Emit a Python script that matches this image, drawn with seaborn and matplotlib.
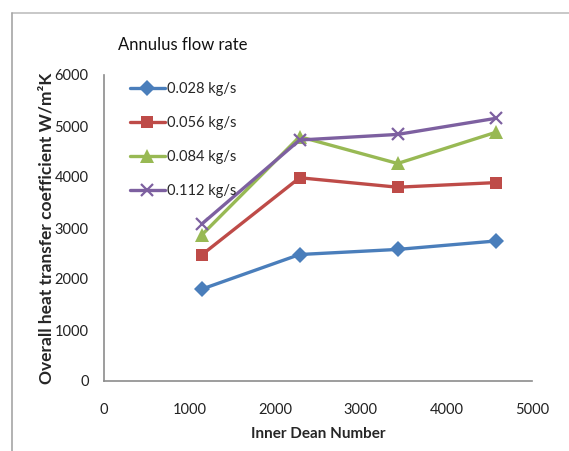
import matplotlib
matplotlib.use("Agg")
import matplotlib.pyplot as plt
import seaborn as sns
import pandas as pd
from matplotlib.lines import Line2D

# Data
dean_numbers = [1140, 2285, 3430, 4575]
series_labels = ["0.028 kg/s", "0.056 kg/s", "0.084 kg/s", "0.112 kg/s"]
u_0028 = [1800, 2480, 2580, 2745]
u_0056 = [2470, 3985, 3800, 3890]
u_0084 = [2860, 4790, 4265, 4875]
u_0112 = [3075, 4725, 4835, 5150]
x_ticks = [0, 1000, 2000, 3000, 4000, 5000]
y_ticks = [0, 1000, 2000, 3000, 4000, 5000, 6000]

values = [u_0028, u_0056, u_0084, u_0112]
rows = []
for lab, vals in zip(series_labels, values):
    for x, y in zip(dean_numbers, vals):
        rows.append({"Dean": x, "U": y, "rate": lab})
df = pd.DataFrame(rows)

sns.set_style("white")
plt.rcParams["font.family"] = ["Lato", "DejaVu Sans"]

colors = ["#4A7EBB", "#BE4B48", "#98B954", "#7D60A0"]
palette = dict(zip(series_labels, colors))
markers = dict(zip(series_labels, ["D", "s", "^", "x"]))
msizes = {"0.028 kg/s": 8, "0.056 kg/s": 9, "0.084 kg/s": 9.5, "0.112 kg/s": 9}

W, H = 569, 451
fig = plt.figure(figsize=(W / 100, H / 100), dpi=100)
ax = fig.add_axes([104 / W, 1 - 381 / H, (532 - 104) / W, (381 - 75) / H])

for lab in series_labels:
    sub = df[df["rate"] == lab]
    sns.lineplot(data=sub, x="Dean", y="U", ax=ax, color=palette[lab],
                 marker=markers[lab], markersize=msizes[lab], linewidth=2.4,
                 markeredgewidth=1.6 if lab == "0.112 kg/s" else 0,
                 markeredgecolor=palette[lab], label=lab)

ax.set_xlim(0, 5000)
ax.set_ylim(0, 6000)
ax.set_xticks(x_ticks)
ax.set_yticks(y_ticks)
ax.tick_params(axis="x", length=0, labelsize=10.5, pad=16)
ax.tick_params(axis="y", length=0, labelsize=10.5, pad=11)
for lab in ax.get_xticklabels() + ax.get_yticklabels():
    lab.set_color("#222222")
ax.set_xlabel("Inner Dean Number", fontsize=11, fontweight="bold", labelpad=7)
ax.set_ylabel("Overall heat transfer coefficient W/m²K", fontsize=12.5,
              fontweight="bold", labelpad=0)
for s in ["top", "right"]:
    ax.spines[s].set_visible(False)
for s in ["left", "bottom"]:
    ax.spines[s].set_color("#8C8C8C")
    ax.spines[s].set_linewidth(1.2)
ax.grid(False)

leg = ax.legend(loc="upper left", bbox_to_anchor=(124 / W, 1 - 76 / H),
                bbox_transform=fig.transFigure, frameon=False, fontsize=10.5,
                handlelength=2.4, labelspacing=1.38, handletextpad=0.15,
                borderaxespad=0)

fig.text(118 / W, 1 - 45 / H, "Annulus flow rate", fontsize=12, va="center",
         ha="left", color="#111111")

# outer frame (top and left edges visible)
fig.add_artist(Line2D([12 / W, 1], [1 - 13 / H, 1 - 13 / H], transform=fig.transFigure,
                      color="#BFBFBF", linewidth=1.2))
fig.add_artist(Line2D([12 / W, 12 / W], [0, 1 - 13 / H], transform=fig.transFigure,
                      color="#A6A6A6", linewidth=1.2))

fig.savefig("out.png", dpi=100)
